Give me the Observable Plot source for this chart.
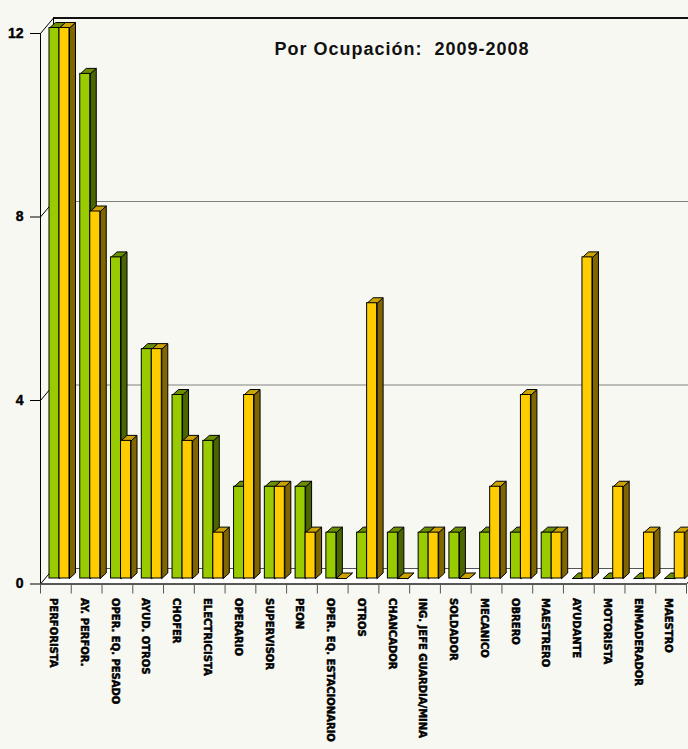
<!DOCTYPE html>
<html>
<head>
<meta charset="utf-8">
<script src="https://cdn.jsdelivr.net/npm/d3@7"></script>
<script src="https://cdn.jsdelivr.net/npm/@observablehq/plot@0.6"></script>
<style>
  html, body { margin: 0; padding: 0; background: #f8f8f3; }
</style>
</head>
<body>
<div id="chart"></div>
<script>
// ---- data ----
const categories = [
  "PERFORISTA", "AY. PERFOR.", "OPER. EQ. PESADO", "AYUD. OTROS", "CHOFER",
  "ELECTRICISTA", "OPERARIO", "SUPERVISOR", "PEON", "OPER. EQ. ESTACIONARIO",
  "OTROS", "CHANCADOR", "ING. JEFE GUARDIA/MINA", "SOLDADOR", "MECANICO",
  "OBRERO", "MAESTRERO", "AYUDANTE", "MOTORISTA", "ENMADERADOR", "MAESTRO"
];
const values2009 = [12, 11, 7, 5, 4, 3, 2, 2, 2, 1, 1, 1, 1, 1, 1, 1, 1, 0, 0, 0, 0];
const values2008 = [12, 8, 3, 5, 3, 1, 4, 2, 1, 0, 6, 0, 1, 0, 2, 4, 1, 7, 2, 1, 1];
const yTicks = [0, 4, 8, 12];
const title = "Por Ocupación:  2009-2008";

// ---- layout (pixels) ----
const W = 688, H = 749;
const mL = 40, mR = 2, mT = 33, mB = 165.5;
const n = categories.length;
const pxX = (W - mL - mR) / n;          // px per category
const pxY = (H - mT - mB) / 12;         // px per unit
const ux = p => p / pxX, uy = p => p / pxY;
const wallDX = 13, wallDY = 15.5;       // back wall depth
const barDX = 6, barDY = 5.5;           // bar depth
const barOff = 9, barW = 10;            // bar offset and width within a category
const barShift = -5.5;                  // bars sit behind the front plane

const series = [
  {vals: values2009, front: "#99cc00", top: "#6b8f00", side: "#4a6600"},
  {vals: values2008, front: "#ffcc00", top: "#cca300", side: "#806600"}
];

function barsOf(s) {
  return categories.map((c, i) => {
    const x1 = i + ux(barOff + barW * s);
    return {i, x1, x2: x1 + ux(barW), v: series[s].vals[i]};
  });
}
function topPolys(bars) {
  return bars.flatMap(b => [
    {id: b.i, x: b.x1, y: b.v},
    {id: b.i, x: b.x2, y: b.v},
    {id: b.i, x: b.x2 + ux(barDX), y: b.v + uy(barDY)},
    {id: b.i, x: b.x1 + ux(barDX), y: b.v + uy(barDY)},
    {id: b.i, x: b.x1, y: b.v}
  ]);
}
function sidePolys(bars) {
  return bars.flatMap(b => [
    {id: b.i, x: b.x2, y: 0},
    {id: b.i, x: b.x2, y: b.v},
    {id: b.i, x: b.x2 + ux(barDX), y: b.v + uy(barDY)},
    {id: b.i, x: b.x2 + ux(barDX), y: uy(barDY)},
    {id: b.i, x: b.x2, y: 0}
  ]);
}

const floor = [
  {x: 0, y: 0}, {x: n, y: 0},
  {x: n + ux(wallDX), y: uy(wallDY)}, {x: ux(wallDX), y: uy(wallDY)}, {x: 0, y: 0}
];

const barMarks = series.flatMap((s, k) => {
  const bars = barsOf(k);
  return [
    Plot.line(sidePolys(bars), {x: "x", y: "y", z: "id", fill: s.side, stroke: "#000", strokeWidth: 1, strokeLinejoin: "miter", dy: barShift}),
    Plot.line(topPolys(bars), {x: "x", y: "y", z: "id", fill: s.top, stroke: "#000", strokeWidth: 1, strokeLinejoin: "miter", dy: barShift}),
    Plot.rect(bars, {x1: "x1", x2: "x2", y1: 0, y2: "v", fill: s.front, stroke: "#000", strokeWidth: 1, dy: barShift})
  ];
});

const chart = Plot.plot({
  width: W, height: H,
  marginLeft: mL, marginRight: mR, marginTop: mT, marginBottom: mB,
  style: {background: "#f8f8f3", color: "#000", overflow: "hidden"},
  x: {type: "linear", domain: [0, n], axis: null},
  y: {type: "linear", domain: [0, 12], axis: null},
  marks: [
    // floor
    Plot.line(floor, {x: "x", y: "y", fill: "#ffffff", stroke: "none"}),
    Plot.ruleY([0], {x1: 0, x2: n, dx: wallDX, dy: -wallDY, stroke: "#555", strokeWidth: 1}),
    // back wall grid
    Plot.ruleY([4, 8], {x1: 0, x2: n, dx: wallDX, dy: -wallDY, stroke: "#808080", strokeWidth: 1}),
    Plot.ruleY([12], {x1: 0, x2: n, dx: wallDX, dy: -wallDY, stroke: "#111", strokeWidth: 2}),
    Plot.ruleX([0], {y1: 0, y2: 12, dx: wallDX, dy: -wallDY, stroke: "#000", strokeWidth: 1}),
    // left wall diagonals
    Plot.link(yTicks, {x1: 0, y1: d => d, x2: ux(wallDX), y2: d => d + uy(wallDY), stroke: "#000", strokeWidth: 1}),
    Plot.link([0], {x1: n, y1: 0, x2: n + ux(wallDX), y2: uy(wallDY), stroke: "#000", strokeWidth: 1}),
    // bars
    ...barMarks,
    // front axes
    Plot.ruleX([0], {y1: 0, y2: 12, stroke: "#000", strokeWidth: 1}),
    Plot.ruleY([0], {x1: 0, x2: n, stroke: "#222", strokeWidth: 1.5}),
    Plot.ruleY(yTicks, {x1: -ux(10), x2: 0, stroke: "#000", strokeWidth: 1}),
    Plot.text(yTicks, {x: 0, y: d => d, dx: -17, textAnchor: "end", fontSize: 14, fontWeight: "bold", fontFamily: "Liberation Sans, Arial, sans-serif", fill: "#000", stroke: "#000", strokeWidth: 0.4}),
    Plot.ruleX(d3.range(n + 1), {y1: 0, y2: -uy(10), stroke: "#555", strokeWidth: 1}),
    Plot.text(categories, {x: (d, i) => i + 0.5, y: 0, rotate: 90, textAnchor: "start", dx: -2.5, dy: 14,
      fontSize: 10, fontWeight: "bold", fontFamily: "DejaVu Sans, sans-serif", fill: "#000", stroke: "#000", strokeWidth: 0.5}),
    // title
    Plot.text([title], {frameAnchor: "top", dx: 38.5, dy: 16, textAnchor: "middle", lineAnchor: "middle",
      fontSize: 18, fontWeight: "bold", fontFamily: "Liberation Sans, Arial, sans-serif", fill: "#111"})
  ]
});
d3.select(chart).selectAll("text")
  .filter(function () { return this.textContent === title; })
  .attr("letter-spacing", "1px")
  .style("letter-spacing", "1px");
document.getElementById("chart").appendChild(chart);
</script>
</body>
</html>
